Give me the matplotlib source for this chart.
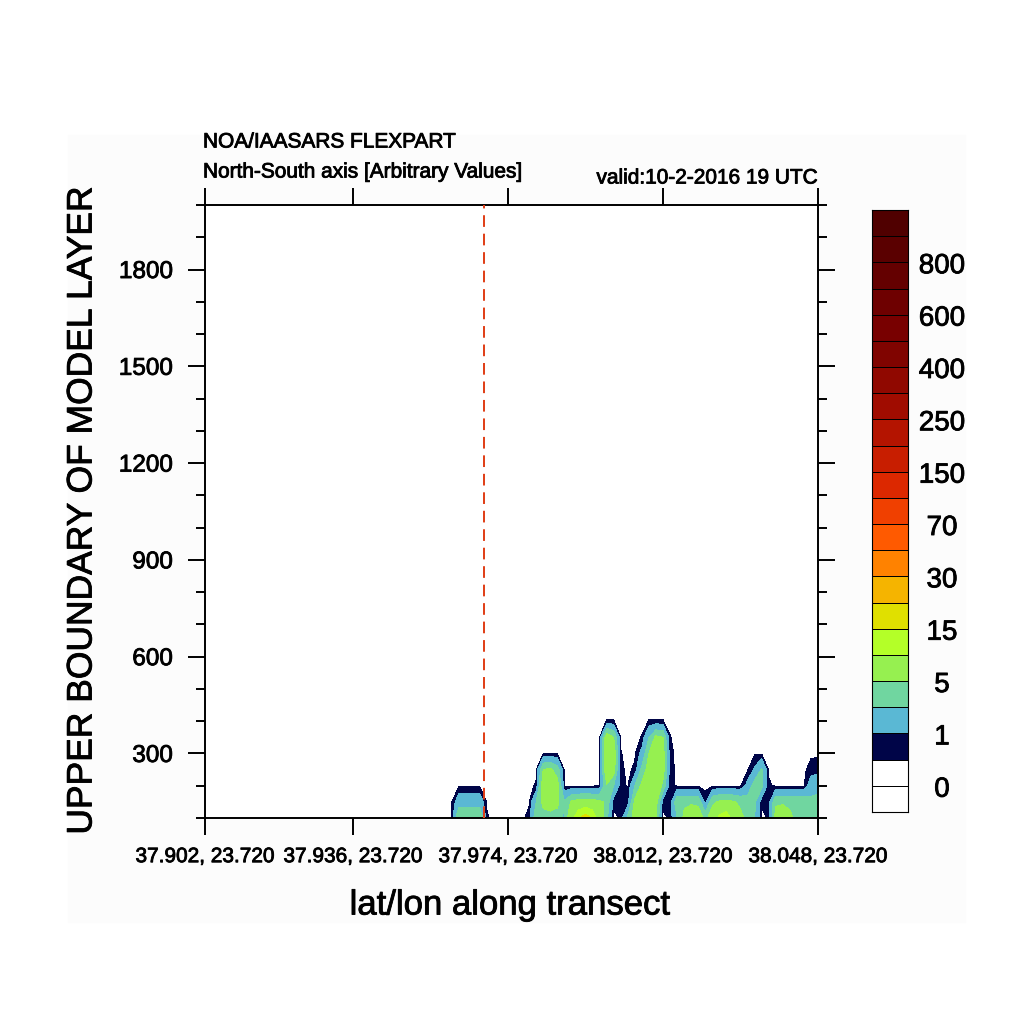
import numpy as np
import matplotlib.pyplot as plt
import matplotlib.patheffects as pe
from matplotlib.colors import ListedColormap
from matplotlib.patches import Rectangle
from matplotlib.text import Text
from matplotlib.ticker import MultipleLocator

plt.rcParams['font.family'] = ['Liberation Sans', 'DejaVu Sans']

# model layer heights (m) for the rows of the transect field
heights = [100, 150, 200, 250, 300, 350, 400, 450]
n_points = 88      # points along the transect
first_col = 34     # first point with any concentration, earlier ones are empty

# concentration per layer, points 34..87 along the transect
conc_100 = [0, 0, 4.9, 4.9, 4.9, 4.9, 0.15, 0, 0, 0, 0, 0, 0.25, 4.5, 4.2, 4.4, 4.2, 2.5,
            8, 14, 18, 14, 7, 3.5, 0, 0.15, 3.5, 6, 6.5, 5.5, 5, 0, 0.15, 3,
            5.5, 6.5, 6, 4.5, 6, 11, 13, 8, 5.5, 4.5, 3, 0, 0.15, 6, 6.5, 5.5, 4.5, 4, 3.5, 3.5]
conc_150 = [0, 0, 2.0, 2.0, 2.0, 2.0, 0.05, 0, 0, 0, 0, 0, 0.05, 3.0, 5.6, 5.8, 5.5, 3.2,
            5.3, 5.8, 6, 5.8, 5.5, 4.5, 0.2, 0.4, 0.3, 5.5, 6.5, 6.5, 6, 0.25, 0.3, 4.5,
            4.6, 4.7, 4.6, 0.3, 4.6, 5.3, 5.6, 5.2, 4.6, 4, 3.5, 0.15, 0.4, 4.6, 4.7, 4.5, 4.4, 4.4, 3.5, 3.5]
conc_200 = [0, 0, 0, 0, 0, 0, 0, 0, 0, 0, 0, 0, 0, 0.15, 6.5, 6.8, 6.0, 0,
            0, 0, 0, 0, 0.05, 4.8, 3.0, 0.4, 0, 3, 5.5, 6.5, 7, 4.5, 0.25, 0,
            0, 0, 0, 0, 0, 0, 0, 0, 0, 1.5, 4, 3.5, 0.2, 0, 0, 0, 0, 0, 2, 2.5]
conc_250 = [0, 0, 0, 0, 0, 0, 0, 0, 0, 0, 0, 0, 0, 0, 5.0, 5.4, 4.0, 0,
            0, 0, 0, 0, 0.05, 7, 6, 0.2, 0, 0.2, 3.5, 6, 7, 6, 0.25, 0,
            0, 0, 0, 0, 0, 0, 0, 0, 0, 0, 1.2, 3.2, 0, 0, 0, 0, 0, 0, 0.3, 0.45]
conc_300 = [0] * 18 + [0, 0, 0, 0, 0.05, 7.5, 6.5, 0.12, 0, 0, 1.5, 5, 6.5, 6, 0.2, 0] + [0] * 20
conc_350 = [0] * 18 + [0, 0, 0, 0, 0.05, 6.5, 5, 0.05, 0, 0, 0.12, 3, 5.5, 5, 0.12, 0] + [0] * 20
conc_400 = [0] * 18 + [0, 0, 0, 0, 0, 0.11, 0.11, 0, 0, 0, 0, 0.11, 0.11, 0.11, 0, 0] + [0] * 20
conc_450 = [0] * 54

tick_pos = [0, 21, 43, 65, 87]
tick_labels = ['37.902, 23.720', '37.936, 23.720', '37.974, 23.720',
               '38.012, 23.720', '38.048, 23.720']
release_pos = 39.6

levels = [0, 0.1, 1, 3, 5, 10, 15, 20, 30, 50, 70, 100, 150, 200, 250, 300,
          400, 500, 600, 700, 800, 900]
level_colors = ['#ffffff', '#ffffff', '#000548', '#5ab8d4', '#70d6a0', '#96f050',
                '#b4ff28', '#e0e000', '#f5b400', '#ff8200', '#ff5a00', '#f04000',
                '#dc2800', '#c81e00', '#b41400', '#a00c00', '#900800', '#800400',
                '#780000', '#6e0000', '#640000', '#5a0000', '#500000']

rows = [conc_100, conc_150, conc_200, conc_250, conc_300, conc_350, conc_400, conc_450]
field = np.zeros((len(heights), n_points))
field[:, first_col:] = np.array(rows)
xs = np.arange(n_points)

W = 1024.0
fig = plt.figure(figsize=(10.24, 10.24), dpi=100)
fig.patches.append(Rectangle((68 / W, 1 - 922 / W), (965 - 68) / W, (922 - 135) / W,
                             transform=fig.transFigure, color='#fcfcfc', zorder=-5))

ax = fig.add_axes([205 / W, 1 - 818 / W, 613 / W, 613 / W])
ax.contourf(xs, heights, field, levels=levels, colors=level_colors[1:-1])
ax.axvline(release_pos, color='#e03c14', lw=1.4, linestyle=(0, (6, 3.5)), zorder=3)

ax.set_xlim(0, n_points - 1)
ax.set_ylim(100, 2000)
ax.set_xticks(tick_pos)
ax.set_xticklabels(tick_labels, fontsize=15)
ax.set_yticks([300, 600, 900, 1200, 1500, 1800])
ax.yaxis.set_minor_locator(MultipleLocator(100))
ax.tick_params(axis='y', which='major', labelsize=17.5, pad=11)
ax.tick_params(which='major', direction='out', length=12, width=1.4, top=True, right=True)
ax.tick_params(which='minor', direction='out', length=6.5, width=1.4, right=True)
ax.tick_params(axis='x', pad=9)
for sp in ax.spines.values():
    sp.set_linewidth(1.4)

fig.text(82 / W, 1 - 511 / W, 'UPPER BOUNDARY OF MODEL LAYER', rotation=90,
         ha='center', va='center', fontsize=25.5)
fig.text(510 / W, 1 - 905 / W, 'lat/lon along transect', ha='center', va='center', fontsize=25)
fig.text(203 / W, 1 - 142 / W, 'NOA/IAASARS FLEXPART', ha='left', va='center', fontsize=15)
fig.text(203 / W, 1 - 172 / W, 'North-South axis [Arbitrary Values]', ha='left', va='center', fontsize=15)
fig.text(818 / W, 1 - 178 / W, 'valid:10-2-2016 19 UTC', ha='right', va='center', fontsize=15)

# label bar
cax = fig.add_axes([872 / W, 1 - 812 / W, 36 / W, 602 / W])
nbox = len(level_colors)
cax.pcolormesh([0, 1], np.arange(nbox + 1), np.arange(nbox).reshape(nbox, 1),
               cmap=ListedColormap(level_colors), edgecolors='black', linewidth=0.5)
cax.set_xlim(0, 1)
cax.set_ylim(0, nbox)
cax.set_xticks([])
cax.set_yticks([])
for sp in cax.spines.values():
    sp.set_linewidth(0.8)
for i in range(0, len(levels), 2):
    cax.text((942 - 872) / 36, i + 1 - 0.15, f'{levels[i]:g}', transform=cax.get_yaxis_transform(),
             ha='center', va='center', fontsize=20)

# NCL's Helvetica renders a little heavier than Liberation Sans
for t in fig.findobj(Text):
    t.set_path_effects([pe.withStroke(linewidth=0.6, foreground='black')])

fig.savefig('out.png', dpi=100)
